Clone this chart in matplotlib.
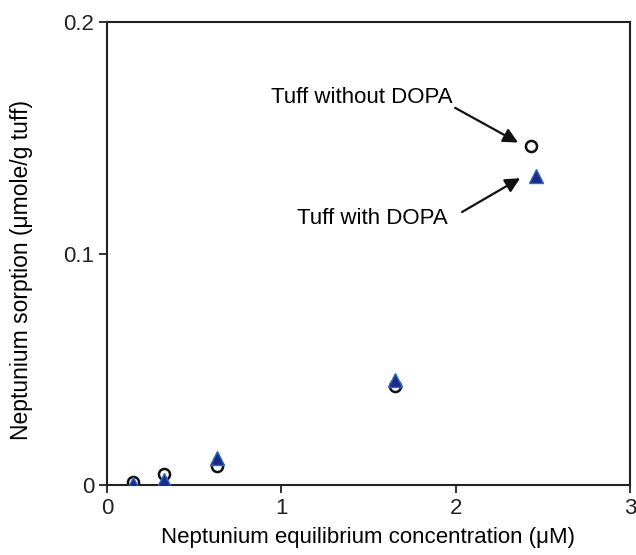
import matplotlib
matplotlib.use("Agg")
import matplotlib.pyplot as plt

plt.rcParams['font.family'] = ['Liberation Sans', 'DejaVu Sans']

x_without = [0.15, 0.33, 0.63, 1.65, 2.43]
y_without = [0.0013, 0.0048, 0.0082, 0.0428, 0.1464]
x_with = [0.15, 0.33, 0.63, 1.65, 2.46]
y_with = [0.0004, 0.0020, 0.0117, 0.0454, 0.1335]

xticks = [0, 1, 2, 3]
yticks = [0, 0.1, 0.2]
yticklabels = ["0", "0.1", "0.2"]

fig = plt.figure(figsize=(6.36, 5.55), dpi=100)
ax = fig.add_axes([0.168, 0.126, 0.8226, 0.834])

ax.plot(x_with, y_with, linestyle='none', marker='^', markersize=10,
        markerfacecolor='#1c2a88', markeredgecolor='#2a6cc0', markeredgewidth=1, zorder=3)
ax.plot(x_without, y_without, linestyle='none', marker='o', markersize=8,
        markerfacecolor='white', markeredgecolor='#111111', markeredgewidth=1.8, zorder=2)

ax.set_xlim(0, 3)
ax.set_ylim(0, 0.2)
ax.set_xticks(xticks)
ax.set_xticklabels([str(t) for t in xticks])
ax.set_yticks(yticks)
ax.set_yticklabels(yticklabels)
ax.tick_params(direction='out', length=6, width=1.3, labelsize=16, colors='#222222', pad=3)
for s in ax.spines.values():
    s.set_linewidth(1.5)
    s.set_color('#222222')

ax.set_xlabel("Neptunium equilibrium concentration (\u03bcM)", fontsize=16, labelpad=6)
ax.set_ylabel("Neptunium sorption (\u03bcmole/g tuff)", fontsize=16.5)
ax.yaxis.set_label_coords(-0.142, 0.464)

ax.text(1.463, 0.1676, "Tuff without DOPA", fontsize=16, ha='center', va='center')
ax.text(1.52, 0.1153, "Tuff with DOPA", fontsize=16, ha='center', va='center')
ax.annotate("", xy=(2.358, 0.148), xytext=(1.997, 0.163),
            arrowprops=dict(arrowstyle='-|>', color='#111111', lw=1.6, mutation_scale=22,
                            shrinkA=0, shrinkB=0))
ax.annotate("", xy=(2.37, 0.1326), xytext=(2.037, 0.118),
            arrowprops=dict(arrowstyle='-|>', color='#111111', lw=1.6, mutation_scale=22,
                            shrinkA=0, shrinkB=0))

fig.savefig("out.png", dpi=100)
